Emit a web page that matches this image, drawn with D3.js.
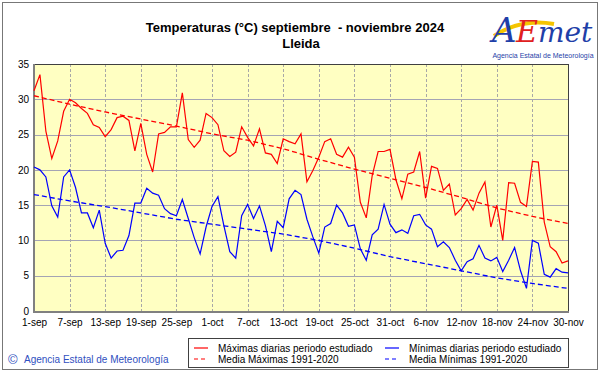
<!DOCTYPE html>
<html>
<head>
<meta charset="utf-8">
<script src="https://cdn.jsdelivr.net/npm/d3@7"></script>
<style>
  body { margin: 0; background: #fff; }
  svg { display: block; font-family: Arial, "Liberation Sans", sans-serif; }
  .title { white-space: pre; }
</style>
</head>
<body>
<svg id="chart" width="601" height="374"></svg>
<script>
// daily values, 1-sep .. 30-nov 2024
const maxDaily = [
  31.2, 33.5, 25.5, 21.6, 24.1, 28.3, 30.0, 29.5, 28.7, 28.0,
  26.4, 26.0, 24.7, 25.7, 27.4, 27.6, 27.0, 22.7, 26.6, 22.2,
  19.7, 25.1, 25.3, 26.1, 26.1, 30.9, 24.3, 23.2, 24.2, 28.0,
  27.4, 26.4, 22.7, 21.9, 22.5, 26.1, 24.6, 23.4, 25.8, 22.4,
  22.2, 20.9, 24.4, 24.0, 23.7, 25.1, 18.3, 19.9, 21.8, 24.0,
  24.4, 22.2, 21.8, 23.2, 21.8, 15.4, 13.2, 19.2, 22.6, 22.6,
  22.9, 18.6, 15.9, 19.4, 19.7, 22.6, 16.0, 20.5, 20.2, 17.1,
  18.0, 13.6, 14.5, 15.8, 14.3, 16.7, 18.3, 11.9, 15.0, 10.0,
  18.2, 18.1, 15.4, 14.8, 21.2, 21.1, 12.6, 9.1, 8.4, 6.8, 7.1
];
const minDaily = [
  20.4, 20.0, 19.0, 14.9, 13.3, 19.0, 20.0, 17.5, 13.9, 13.9,
  11.8, 14.3, 9.6, 7.5, 8.5, 8.6, 10.7, 15.3, 15.3, 17.4,
  16.7, 16.4, 14.5, 13.8, 13.5, 15.8, 13.1, 10.4, 8.1, 11.9,
  14.8, 16.2, 12.1, 8.4, 7.5, 13.5, 15.1, 13.1, 14.9, 12.1,
  8.4, 12.7, 11.8, 15.9, 17.1, 16.5, 13.0, 10.5, 8.2, 11.9,
  12.4, 15.0, 13.9, 12.0, 12.2, 8.8, 7.2, 10.8, 11.6, 15.1,
  12.3, 11.1, 11.5, 11.0, 13.5, 13.7, 12.2, 11.6, 9.1, 9.8,
  9.0, 7.2, 5.7, 7.0, 7.4, 9.3, 7.5, 7.1, 7.6, 5.6,
  7.2, 9.0, 5.7, 3.2, 10.0, 9.6, 5.2, 4.8, 6.0, 5.5, 5.4
];

// 1991-2020 means, read at every labelled day
const normDays = [0, 6, 12, 18, 24, 30, 36, 42, 48, 54, 60, 66, 72, 78, 84, 90];
const normMax = [30.5, 29.3, 28.2, 27.2, 26.2, 25.1, 24.2, 23.0, 21.5, 20.1, 18.8, 17.5, 16.1, 14.6, 13.4, 12.4];
const normMin = [16.5, 15.6, 14.8, 13.9, 13.0, 12.3, 11.6, 10.9, 10.0, 8.9, 7.7, 6.7, 5.7, 4.7, 3.9, 3.2];

const xLabels = ['1-sep', '7-sep', '13-sep', '19-sep', '25-sep', '1-oct', '7-oct', '13-oct',
                 '19-oct', '25-oct', '31-oct', '6-nov', '12-nov', '18-nov', '24-nov', '30-nov'];
const yTicks = [0, 5, 10, 15, 20, 25, 30, 35];

const legendItems = [
  { label: 'Máximas diarias periodo estudiado', color: '#ff0000', dash: null, col: 0, row: 0 },
  { label: 'Media Máximas 1991-2020', color: '#ff0000', dash: '4,3', col: 0, row: 1 },
  { label: 'Mínimas diarias periodo estudiado', color: '#0000ff', dash: null, col: 1, row: 0 },
  { label: 'Media Mínimas 1991-2020', color: '#0000ff', dash: '4,3', col: 1, row: 1 }
];

const svg = d3.select('#chart');
const plot = { left: 34, right: 568, top: 64, bottom: 311 };

const x = d3.scaleLinear().domain([0, 90]).range([plot.left, plot.right]);
const y = d3.scaleLinear().domain([0, 35]).range([plot.bottom, plot.top]);

// outer frame
svg.append('rect')
   .attr('x', 2.5).attr('y', 2.5).attr('width', 595).attr('height', 367)
   .attr('fill', '#fff').attr('stroke', '#777').attr('stroke-width', 1);

// title
svg.append('text').attr('class', 'title').attr('x', 295).attr('y', 32).attr('text-anchor', 'middle')
   .attr('font-size', 13).attr('font-weight', 'bold').attr('fill', '#000')
   .text('Temperaturas (°C) septiembre  - noviembre 2024');
svg.append('text').attr('x', 301).attr('y', 48).attr('text-anchor', 'middle')
   .attr('font-size', 13).attr('font-weight', 'bold').attr('fill', '#000')
   .text('Lleida');

// plot background
svg.append('rect')
   .attr('x', plot.left).attr('y', plot.top)
   .attr('width', plot.right - plot.left).attr('height', plot.bottom - plot.top)
   .attr('fill', '#ffffc2');

// horizontal grid
svg.append('g').selectAll('line')
   .data(yTicks.filter(d => d > 0 && d < 35))
   .join('line')
   .attr('x1', plot.left).attr('x2', plot.right)
   .attr('y1', d => Math.round(y(d)) + 0.5).attr('y2', d => Math.round(y(d)) + 0.5)
   .attr('stroke', '#a4a4b4').attr('stroke-width', 1);

// vertical grid (dashed), every 6 days
const tickDays = xLabels.map((d, i) => i * 6);
svg.append('g').selectAll('line')
   .data(tickDays.filter(d => d > 0 && d < 90))
   .join('line')
   .attr('x1', d => Math.round(x(d)) + 0.5).attr('x2', d => Math.round(x(d)) + 0.5)
   .attr('y1', plot.top).attr('y2', plot.bottom)
   .attr('stroke', '#a8a8a8').attr('stroke-width', 1).attr('stroke-dasharray', '3,2');

// plot frame: dark top/right, thick grey left/bottom
svg.append('rect')
   .attr('x', plot.left + 0.5).attr('y', plot.top + 0.5)
   .attr('width', plot.right - plot.left).attr('height', plot.bottom - plot.top)
   .attr('fill', 'none').attr('stroke', '#404040').attr('stroke-width', 1);
svg.append('line').attr('x1', plot.left).attr('x2', plot.left)
   .attr('y1', plot.top).attr('y2', plot.bottom + 2)
   .attr('stroke', '#808080').attr('stroke-width', 2);
svg.append('line').attr('x1', plot.left).attr('x2', plot.right + 1)
   .attr('y1', plot.bottom + 1).attr('y2', plot.bottom + 1)
   .attr('stroke', '#808080').attr('stroke-width', 2);

// axes (labels only, the library does the placement)
const yAxis = d3.axisLeft(y).tickValues(yTicks).tickSize(0).tickPadding(5);
svg.append('g').attr('transform', `translate(${plot.left},0)`).call(yAxis)
   .call(g => g.select('.domain').remove())
   .selectAll('text').attr('font-size', 10).attr('fill', '#000').attr('font-family', 'Arial, sans-serif');

const xAxis = d3.axisBottom(x).tickValues(tickDays).tickFormat((d, i) => xLabels[i])
   .tickSize(0).tickPadding(8);
svg.append('g').attr('transform', `translate(0,${plot.bottom})`).call(xAxis)
   .call(g => g.select('.domain').remove())
   .selectAll('text').attr('font-size', 10).attr('fill', '#000').attr('font-family', 'Arial, sans-serif');

// series
const line = d3.line().x((d, i) => x(i)).y(d => y(d));
const normLine = d3.line().x((d, i) => x(normDays[i])).y(d => y(d));

svg.append('path').attr('d', normLine(normMax))
   .attr('fill', 'none').attr('stroke', '#ff0000').attr('stroke-width', 1.3).attr('stroke-dasharray', '5,3');
svg.append('path').attr('d', normLine(normMin))
   .attr('fill', 'none').attr('stroke', '#0000ff').attr('stroke-width', 1.3).attr('stroke-dasharray', '5,3');
svg.append('path').attr('d', line(maxDaily))
   .attr('fill', 'none').attr('stroke', '#ff0000').attr('stroke-width', 1.2);
svg.append('path').attr('d', line(minDaily))
   .attr('fill', 'none').attr('stroke', '#0000ff').attr('stroke-width', 1.2);

// legend
const lg = svg.append('g').attr('transform', 'translate(188,338)');
lg.append('rect').attr('x', 0.5).attr('y', 0.5).attr('width', 380).attr('height', 29)
  .attr('fill', '#fff').attr('stroke', '#404040');
const items = lg.selectAll('g.item').data(legendItems).join('g')
  .attr('transform', d => `translate(${d.col ? 197 : 6},${d.row ? 21 : 10})`);
items.append('line').attr('x1', 0).attr('x2', 14).attr('y1', 0).attr('y2', 0)
  .attr('stroke', d => d.color).attr('stroke-width', 1.2)
  .attr('stroke-dasharray', d => d.dash);
items.append('text').attr('x', 24).attr('y', 4).attr('font-size', 10).attr('fill', '#000')
  .text(d => d.label);

// copyright
svg.append('text').attr('x', 8).attr('y', 364).attr('font-size', 13).attr('fill', '#2f4fc0').text('©');
svg.append('text').attr('x', 24).attr('y', 363).attr('font-size', 10).attr('fill', '#2f4fc0')
   .text('Agencia Estatal de Meteorología');

// AEMET logo (approximation)
const logo = svg.append('g').attr('transform', 'translate(492,6)');
logo.append('path').attr('d', 'M2,30 C20,18 40,14 62,18')
    .attr('fill', 'none').attr('stroke', '#f5c400').attr('stroke-width', 4);
logo.append('text').attr('x', 0).attr('y', 36).attr('font-size', 34).attr('font-style', 'italic')
    .attr('font-family', '"DejaVu Serif", serif').attr('fill', '#1f3fa8').text('A');
logo.append('text').attr('x', 24).attr('y', 36).attr('font-size', 30).attr('font-style', 'italic')
    .attr('font-family', '"DejaVu Serif", serif').attr('fill', '#e02020').text('E');
logo.append('text').attr('x', 46).attr('y', 36).attr('font-size', 28).attr('font-style', 'italic')
    .attr('font-family', '"DejaVu Serif", serif').attr('fill', '#1f3fa8').text('met');
logo.append('text').attr('x', 51).attr('y', 52).attr('text-anchor', 'middle').attr('font-size', 7)
    .attr('fill', '#1f3fa8').text('Agencia Estatal de Meteorología');
</script>
</body>
</html>
